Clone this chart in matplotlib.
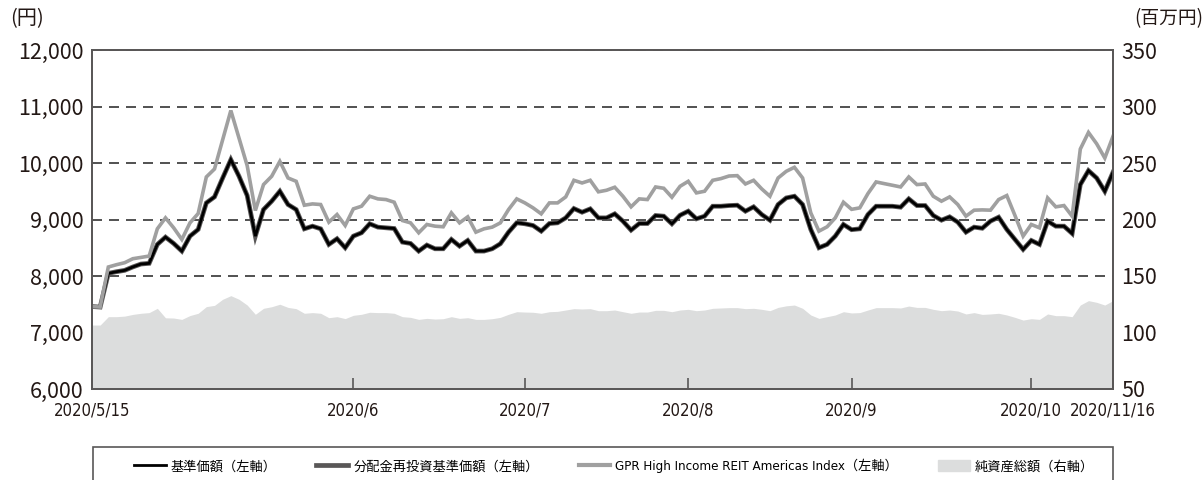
# -*- coding: utf-8 -*-
import matplotlib
matplotlib.use("Agg")
import matplotlib.pyplot as plt
from matplotlib.patches import Rectangle
from matplotlib.font_manager import FontProperties

plt.rcParams['font.family'] = ['Noto Sans CJK JP', 'DejaVu Sans']
narrow = ['DejaVu Sans', 'Noto Sans CJK JP']

# 基準価額 (円), one value per point
nav = [7460, 7450, 8047, 8076, 8100, 8160, 8212, 8224, 8559, 8688,
       8576, 8441, 8706, 8824, 9294, 9400, 9735, 10059, 9765, 9424,
       8706, 9176, 9324, 9500, 9265, 9176, 8835, 8882, 8835, 8559,
       8659, 8500, 8706, 8765, 8924, 8865, 8853, 8841, 8600, 8576,
       8441, 8547, 8482, 8482, 8647, 8529, 8629, 8441, 8441, 8482,
       8571, 8776, 8941, 8924, 8894, 8794, 8929, 8941, 9029, 9194,
       9129, 9188, 9029, 9029, 9100, 8971, 8812, 8929, 8929, 9071,
       9059, 8924, 9076, 9147, 9012, 9059, 9235, 9235, 9247, 9253,
       9147, 9224, 9088, 8988, 9265, 9382, 9412, 9265, 8824, 8500,
       8559, 8706, 8912, 8820, 8835, 9088, 9235, 9235, 9235, 9218,
       9365, 9247, 9247, 9071, 8988, 9047, 8953, 8776, 8865, 8845,
       8971, 9041, 8824, 8647, 8471, 8629, 8559, 8971, 8882, 8882,
       8753, 9618, 9865, 9735, 9500, 9835]

# 分配金再投資基準価額 (no distribution in the period, same as nav)
reinvest = list(nav)

# GPR High Income REIT Americas Index (円換算)
gpr = [7460, 7450, 8159, 8200, 8235, 8306, 8329, 8353, 8835, 9029,
       8853, 8647, 8941, 9106, 9753, 9894, 10412, 10929, 10441, 9953,
       9159, 9618, 9765, 10029, 9735, 9676, 9253, 9276, 9265, 8953,
       9088, 8894, 9188, 9235, 9412, 9365, 9353, 9306, 8982, 8941,
       8765, 8912, 8882, 8871, 9118, 8941, 9047, 8776, 8835, 8865,
       8941, 9176, 9365, 9294, 9206, 9100, 9294, 9294, 9400, 9694,
       9647, 9694, 9490, 9518, 9571, 9412, 9224, 9365, 9353, 9576,
       9553, 9394, 9588, 9676, 9471, 9500, 9694, 9724, 9770, 9776,
       9629, 9694, 9541, 9412, 9735, 9853, 9924, 9735, 9118, 8794,
       8871, 9029, 9306, 9180, 9206, 9459, 9665, 9635, 9606, 9576,
       9753, 9618, 9629, 9412, 9324, 9400, 9265, 9059, 9165, 9170,
       9165, 9353, 9424, 9071, 8706, 8912, 8853, 9382, 9224, 9247,
       9059, 10247, 10541, 10341, 10088, 10471]

# 純資産総額 (百万円)
aum = [106.6, 106.6, 114.0, 114.0, 114.5, 116.0, 117.0, 117.6, 121.4, 113.0,
       112.8, 111.6, 115.0, 117.0, 122.9, 124.0, 129.4, 132.6, 129.4, 124.3,
       116.1, 121.4, 122.8, 125.0, 122.2, 121.1, 117.0, 117.6, 117.0, 113.1,
       114.0, 112.3, 115.2, 116.1, 117.9, 117.6, 117.6, 117.0, 114.0, 113.4,
       111.6, 112.5, 111.9, 112.2, 114.0, 112.5, 113.1, 111.6, 111.6, 112.2,
       113.4, 116.1, 118.4, 118.1, 117.9, 117.0, 118.4, 118.7, 119.9, 121.1,
       120.8, 121.1, 119.3, 119.3, 119.9, 118.4, 117.0, 118.1, 118.1, 119.6,
       119.6, 118.4, 119.9, 120.5, 119.3, 119.9, 121.4, 121.7, 122.0, 122.0,
       121.1, 121.4, 120.5, 119.3, 122.2, 123.6, 124.3, 121.4, 115.5, 112.5,
       114.0, 115.5, 118.4, 117.3, 117.6, 119.9, 122.0, 122.0, 122.0, 121.7,
       123.4, 122.2, 122.2, 120.5, 119.3, 119.9, 119.0, 116.4, 117.6, 116.0,
       116.4, 117.0, 115.5, 113.4, 111.0, 112.2, 111.6, 116.4, 114.9, 114.9,
       114.0, 124.3, 128.2, 126.7, 124.3, 128.2]

tick_pos = [0, 32, 53, 73, 93, 115, 125]
tick_labels = ['2020/5/15', '2020/6', '2020/7', '2020/8', '2020/9', '2020/10', '2020/11/16']

left_ticks = [6000, 7000, 8000, 9000, 10000, 11000, 12000]
right_ticks = [50, 100, 150, 200, 250, 300, 350]

names = ['基準価額（左軸）', '分配金再投資基準価額（左軸）',
         'GPR High Income REIT Americas Index（左軸）', '純資産総額（右軸）']

c_nav = '#000000'
c_re = '#595757'
c_gpr = '#a0a0a0'
c_aum = '#dcdddd'
c_axis = '#595757'
c_text = '#231815'


def main():
    fig = plt.figure(figsize=(12.04, 4.8), dpi=100)
    ax = fig.add_axes([0.0764, 0.1896, 0.848, 0.7062])
    ax2 = ax.twinx()
    ax.set_zorder(ax2.get_zorder() + 1)
    ax.patch.set_visible(False)

    x = list(range(len(nav)))

    # area on right axis, grid behind it
    ax2.fill_between(x, 50, aum, color=c_aum, lw=0, zorder=1)
    ax2.set_ylim(50, 350)
    ax2.set_yticks(right_ticks)
    ax2.set_axisbelow(True)
    ax2.yaxis.grid(True, color='#333333', lw=1.2, linestyle=(0, (6, 4.2)))

    ax.plot(x, reinvest, color=c_re, lw=3.4, solid_joinstyle='miter')
    ax.plot(x, nav, color=c_nav, lw=2.0, solid_joinstyle='miter')
    ax.plot(x, gpr, color=c_gpr, lw=2.6, solid_joinstyle='miter')

    ax.set_xlim(0, len(nav) - 1)
    ax.set_ylim(6000, 12000)
    ax.set_yticks(left_ticks)
    ax.set_yticklabels(['{:,}'.format(v) for v in left_ticks])
    ax.set_xticks(tick_pos)
    xfont = FontProperties(family=narrow, stretch='condensed', size=12)
    ax.set_xticklabels(tick_labels, fontproperties=xfont)

    ax.tick_params(axis='y', length=0, labelsize=15.5, pad=6, colors=c_text)
    ax2.tick_params(axis='y', length=0, labelsize=15.5, pad=6, colors=c_text)
    ax.tick_params(axis='x', direction='in', length=8, width=1.2, color=c_axis,
                   pad=9, labelcolor=c_text)

    for a in (ax, ax2):
        for s in a.spines.values():
            s.set_color(c_axis)
            s.set_linewidth(1.3)

    fig.text(0.008, 0.962, '(円)', fontsize=14.5, color=c_text, va='center')
    fig.text(0.942, 0.962, '(百万円)', fontsize=13.5, color=c_text, va='center')

    # legend box below the plot
    fig.patches.append(Rectangle((0.0772, -0.01), 0.847, 0.079, transform=fig.transFigure,
                                 fill=False, edgecolor=c_axis, lw=1.2))
    h1, = ax.plot([], [], color=c_nav, lw=2.0)
    h2, = ax.plot([], [], color=c_re, lw=3.4)
    h3, = ax.plot([], [], color=c_gpr, lw=3.0)
    h4 = Rectangle((0, 0), 1, 1, color=c_aum)
    lfont = FontProperties(family=narrow, stretch='condensed', size=9.5)
    fig.legend([h1, h2, h3, h4], names, loc='center', bbox_to_anchor=(0.51, 0.029),
               ncol=4, frameon=False, handlelength=2.4, handleheight=0.9,
               columnspacing=3.0, handletextpad=0.4, prop=lfont)

    fig.savefig('out.png', dpi=100)


if __name__ == "__main__":
    main()
